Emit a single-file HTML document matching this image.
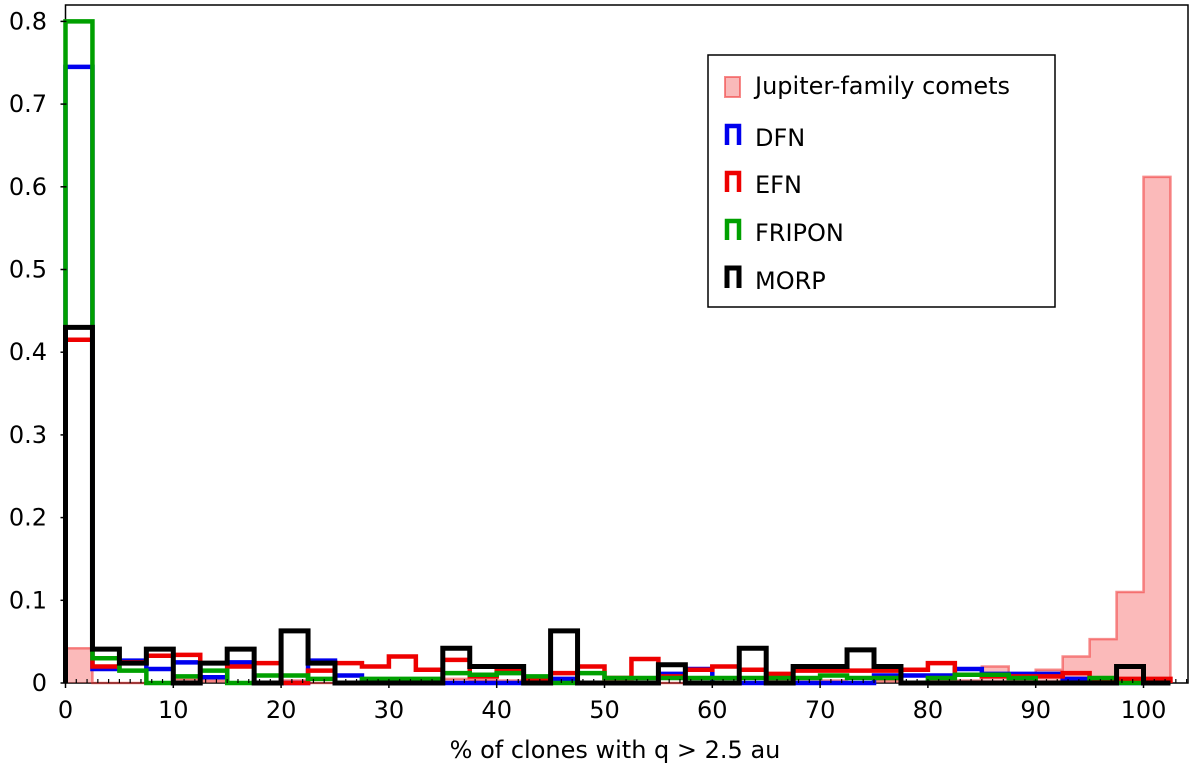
<!DOCTYPE html>
<html><head><meta charset="utf-8">
<style>
body{margin:0;background:#fff;font-family:"Liberation Sans","DejaVu Sans",sans-serif;}
svg text{font-family:"DejaVu Sans","Liberation Sans",sans-serif;}
</style></head>
<body>
<svg id="chart" width="1200" height="773" viewBox="0 0 1200 773" xmlns="http://www.w3.org/2000/svg">
<rect x="65.5" y="5" width="1122.5" height="678" fill="#fff" stroke="#000" stroke-width="1.5"/>
<g id="marks"></g>
<g id="axes"></g>
<text x="615" y="758" text-anchor="middle" font-size="24" fill="#000">% of clones with q &gt; 2.5 au</text>
<g>
<rect x="708" y="55" width="347" height="252" fill="#fff" stroke="#000" stroke-width="1.5"/>
<g>
<path d="M725,97 V77 H740 V97 Z" fill="rgba(240,80,80,0.4)" stroke="rgba(240,60,60,0.6)" stroke-width="2"/>
<text x="755" y="94" font-size="24">Jupiter-family comets</text></g>
<g>
<path d="M727,145 V126 H739 V145" fill="none" stroke="#0000ee" stroke-width="4.5"/>
<text x="755" y="146" font-size="24">DFN</text></g>
<g>
<path d="M727,192 V173 H739 V192" fill="none" stroke="#ee0000" stroke-width="4.5"/>
<text x="755" y="193" font-size="24">EFN</text></g>
<g>
<path d="M727,240 V221 H739 V240" fill="none" stroke="#00a000" stroke-width="4.5"/>
<text x="755" y="241" font-size="24">FRIPON</text></g>
<g>
<path d="M727,288 V268 H739 V288" fill="none" stroke="#000" stroke-width="5"/>
<text x="755" y="289" font-size="24">MORP</text></g>
</g>
</svg>
<script>
const binWidth = 2.5;
const jfcValues = [0.042,0,0,0,0.005,0.003,0,0,0.003,0,0,0,0,0,0.005,0.004,0.003,0,0,0,0,0,0,0,0,0,0.005,0.005,0.003,0,0.003,0,0.003,0.003,0.02,0.005,0.016,0.032,0.053,0.11,0.612];
const dfnValues = [0.745,0.017,0.027,0.017,0.025,0.007,0.025,0,0,0.027,0.009,0,0,0,0,0,0,0,0.005,0,0,0,0.011,0.017,0,0,0,0,0,0,0.009,0.009,0.009,0.017,0.011,0.011,0.011,0.005,0.005,0,0];
const efnValues = [0.415,0.02,0.025,0.033,0.034,0.024,0.02,0.024,0,0.015,0.024,0.02,0.032,0.016,0.028,0.008,0.017,0.005,0.012,0.02,0.006,0.029,0.008,0.016,0.02,0.016,0.011,0.015,0.015,0.015,0.015,0.016,0.024,0.01,0.008,0.008,0.008,0.012,0.005,0.005,0.005];
const friponValues = [0.80,0.03,0.015,0,0.008,0.015,0,0.009,0.009,0.005,0,0.005,0.005,0.005,0.012,0.01,0.012,0.008,0,0.012,0.006,0.006,0.006,0.006,0.006,0.006,0.006,0.006,0.009,0.006,0.006,0,0.006,0.01,0.01,0.006,0,0,0.006,0,0];
const morpValues = [0.43,0.041,0.024,0.041,0,0.024,0.041,0,0.063,0.024,0,0,0,0,0.042,0.02,0.02,0,0.063,0,0,0,0.022,0,0,0.042,0,0.02,0.02,0.04,0.02,0,0,0,0,0,0,0,0,0.02,0];
const xTicks = [0,10,20,30,40,50,60,70,80,90,100];
const yTicks = [0,0.1,0.2,0.3,0.4,0.5,0.6,0.7,0.8];

const X0 = 65.5, XS = 10.78, Y0 = 683, YS = 827;
function xs(v){return X0 + v*XS;}
function ys(v){return Y0 - v*YS;}
const NS = 'http://www.w3.org/2000/svg';
const marks = document.getElementById('marks');
const axes = document.getElementById('axes');

function stepPath(vals){
  let d = 'M' + xs(0) + ',' + ys(0);
  vals.forEach((v,i)=>{
    d += ' V' + ys(v) + ' H' + xs((i+1)*binWidth);
  });
  d += ' V' + ys(0);
  return d;
}
function addSeries(vals, name, fill, stroke, sw){
  const p = document.createElementNS(NS,'path');
  p.setAttribute('d', stepPath(vals));
  p.setAttribute('fill', fill);
  p.setAttribute('stroke', stroke);
  p.setAttribute('stroke-width', sw);
  p.setAttribute('stroke-linejoin','miter');
  
  
  marks.appendChild(p);
}
addSeries(jfcValues, 'jfc-histogram', 'rgba(245,90,90,0.42)', 'rgba(240,50,50,0.55)', 2.5);
addSeries(dfnValues, 'dfn-histogram', 'none', '#0000ee', 4.5);
addSeries(efnValues, 'efn-histogram', 'none', '#ee0000', 4.5);
addSeries(friponValues, 'fripon-histogram', 'none', '#00a000', 4.5);
addSeries(morpValues, 'morp-histogram', 'none', '#000', 5);

for(let v=0; v<=104; v+=1){
  const t = document.createElementNS(NS,'line');
  t.setAttribute('x1', xs(v)); t.setAttribute('x2', xs(v));
  t.setAttribute('y1', Y0); t.setAttribute('y2', Y0-4);
  t.setAttribute('stroke','#000'); t.setAttribute('stroke-width','1.2');
  
  
  axes.appendChild(t);
}
xTicks.forEach(v=>{
  const t = document.createElementNS(NS,'line');
  t.setAttribute('x1', xs(v)); t.setAttribute('x2', xs(v));
  t.setAttribute('y1', Y0+5); t.setAttribute('y2', Y0-1);
  t.setAttribute('stroke','#000'); t.setAttribute('stroke-width','1.5');
  
  
  axes.appendChild(t);
  const l = document.createElementNS(NS,'text');
  l.setAttribute('x', xs(v)); l.setAttribute('y', 718);
  l.setAttribute('text-anchor','middle'); l.setAttribute('font-size','24');
  l.textContent = v;
  
  
  axes.appendChild(l);
});
yTicks.forEach(v=>{
  const t = document.createElementNS(NS,'line');
  t.setAttribute('x1', X0-5); t.setAttribute('x2', X0+1);
  t.setAttribute('y1', ys(v)); t.setAttribute('y2', ys(v));
  t.setAttribute('stroke','#000'); t.setAttribute('stroke-width','1.5');
  
  
  axes.appendChild(t);
  const l = document.createElementNS(NS,'text');
  l.setAttribute('x', 47); l.setAttribute('y', ys(v)+8);
  l.setAttribute('text-anchor','end'); l.setAttribute('font-size','24');
  l.textContent = v;
  
  
  axes.appendChild(l);
});
</script>
</body></html>
